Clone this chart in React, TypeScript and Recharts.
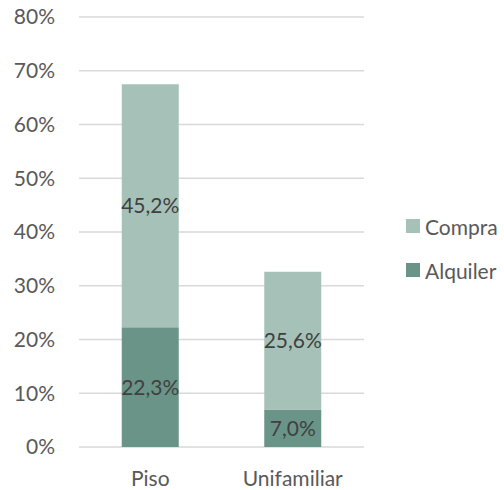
import React from "react";
import { BarChart, Bar, XAxis, YAxis, CartesianGrid, LabelList } from "recharts";

document.body.style.margin = "0";

// Tipo de vivienda y régimen de tenencia (% de hogares)
const categories = ["Piso", "Unifamiliar"];
const alquiler = [22.3, 7.0];
const compra = [45.2, 25.6];
const yTicks = [0, 10, 20, 30, 40, 50, 60, 70, 80];

const data = categories.map((name, i) => ({ name, Alquiler: alquiler[i], Compra: compra[i] }));

const FONT = "Lato, 'Open Sans', sans-serif";
const FS = 21;
const DARK = "#6a9488";
const LIGHT = "#a6c2b8";

const fmt = (v: number) => v.toFixed(1).replace(".", ",") + "%";

const legendItems = [
  { label: "Compra", color: LIGHT },
  { label: "Alquiler", color: DARK },
];

const LegendBox = () => (
  <div
    style={{
      position: "absolute",
      left: 406,
      top: 204,
      fontFamily: FONT,
      fontSize: FS,
      color: "#595959",
    }}
  >
    {legendItems.map((it) => (
      <div key={it.label} style={{ display: "flex", alignItems: "center", height: 44 }}>
        <span style={{ width: 14, height: 14, background: it.color, marginRight: 5, display: "inline-block" }} />
        <span>{it.label}</span>
      </div>
    ))}
  </div>
);

export default function App() {
  return (
    <div style={{ position: "relative", width: 504, height: 490 }}>
      <BarChart
        width={504}
        height={490}
        data={data}
        margin={{ top: 17, right: 140, bottom: 0, left: 0 }}
        barCategoryGap="30%"
      >
        <CartesianGrid vertical={false} stroke="#d9d9d9" strokeWidth={1.5} />
        <XAxis
          dataKey="name"
          axisLine={false}
          tickLine={false}
          tickSize={0}
          tickMargin={24}
          height={43}
          tick={{ fill: "#595959", fontSize: FS, fontFamily: FONT }}
        />
        <YAxis
          domain={[0, 80]}
          ticks={yTicks}
          axisLine={false}
          tickLine={false}
          tickSize={0}
          tickMargin={24}
          width={79}
          tickFormatter={(v: number) => `${v}%`}
          tick={{ fill: "#595959", fontSize: FS, fontFamily: FONT }}
        />
        <Bar dataKey="Alquiler" stackId="a" fill={DARK} isAnimationActive={false}>
          <LabelList
            dataKey="Alquiler"
            position="center"
            formatter={fmt}
            style={{ fill: "#404040", fontSize: FS, fontFamily: FONT }}
          />
        </Bar>
        <Bar dataKey="Compra" stackId="a" fill={LIGHT} isAnimationActive={false}>
          <LabelList
            dataKey="Compra"
            position="center"
            formatter={fmt}
            style={{ fill: "#404040", fontSize: FS, fontFamily: FONT }}
          />
        </Bar>
      </BarChart>
      <LegendBox />
    </div>
  );
}
